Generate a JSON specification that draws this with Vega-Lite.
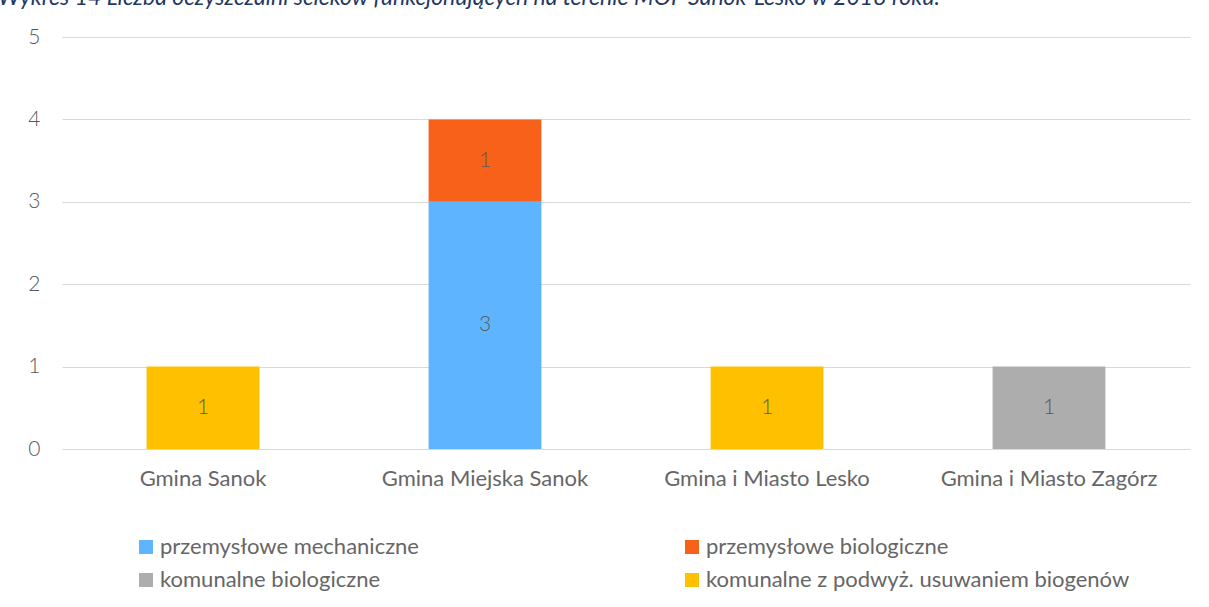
{
  "$schema": "https://vega.github.io/schema/vega-lite/v6.json",
  "autosize": "none",
  "width": 1128,
  "height": 412,
  "padding": {"left": 62, "top": 37, "right": 19, "bottom": 158},
  "background": "white",
  "title": {
    "text": "Wykres 14 Liczba oczyszczalni ścieków funkcjonujących na terenie MOF Sanok-Lesko w 2018 roku.",
    "anchor": "start",
    "frame": "group",
    "orient": "top",
    "offset": 0,
    "dx": -64,
    "dy": 2,
    "baseline": "alphabetic",
    "font": "Lato",
    "fontSize": 23,
    "fontStyle": "italic",
    "fontWeight": "normal",
    "color": "#1F3864"
  },
  "data": {
    "values": [
      {"gmina": "Gmina Sanok", "typ": "komunalne z podwyż. usuwaniem biogenów", "value": 1, "ord": 1},
      {"gmina": "Gmina Miejska Sanok", "typ": "przemysłowe mechaniczne", "value": 3, "ord": 1},
      {"gmina": "Gmina Miejska Sanok", "typ": "przemysłowe biologiczne", "value": 1, "ord": 2},
      {"gmina": "Gmina i Miasto Lesko", "typ": "komunalne z podwyż. usuwaniem biogenów", "value": 1, "ord": 1},
      {"gmina": "Gmina i Miasto Zagórz", "typ": "komunalne biologiczne", "value": 1, "ord": 1}
    ]
  },
  "transform": [
    {"stack": "value", "groupby": ["gmina"], "sort": [{"field": "ord"}], "as": ["v0", "v1"]},
    {"calculate": "(datum.v0 + datum.v1) / 2", "as": "mid"}
  ],
  "encoding": {
    "x": {
      "field": "gmina",
      "type": "nominal",
      "sort": ["Gmina Sanok", "Gmina Miejska Sanok", "Gmina i Miasto Lesko", "Gmina i Miasto Zagórz"],
      "scale": {"paddingInner": 0.6, "paddingOuter": 0.3},
      "axis": {
        "title": null,
        "labelAngle": 0,
        "domain": false,
        "ticks": false,
        "labelPadding": 19,
        "labelFont": "Lato",
        "labelFontSize": 22,
        "labelFontWeight": "normal",
        "labelColor": "#666666",
        "labelLimit": 400
      }
    }
  },
  "layer": [
    {
      "mark": {"type": "bar"},
      "encoding": {
        "y": {
          "field": "v0",
          "type": "quantitative",
          "scale": {"domain": [0, 5]},
          "axis": {
            "title": null,
            "values": [0, 1, 2, 3, 4, 5],
            "format": "d",
            "domain": false,
            "ticks": false,
            "labelPadding": 22,
            "labelFont": "Lato",
            "labelFontSize": 21,
            "labelFontWeight": 300,
            "labelColor": "#595959",
            "gridColor": "#D9D9D9",
            "gridWidth": 1
          }
        },
        "y2": {"field": "v1"},
        "color": {
          "field": "typ",
          "type": "nominal",
          "scale": {
            "domain": ["przemysłowe mechaniczne", "przemysłowe biologiczne", "komunalne biologiczne", "komunalne z podwyż. usuwaniem biogenów"],
            "range": ["#5FB4FF", "#F8611A", "#ADADAD", "#FFC000"]
          },
          "legend": {
            "title": null,
            "orient": "none",
            "legendX": 73,
            "legendY": 499,
            "direction": "horizontal",
            "columns": 2,
            "columnPadding": 262,
            "rowPadding": 11,
            "padding": 0,
            "symbolType": "square",
            "symbolSize": 196,
            "symbolStrokeWidth": 0,
            "labelFont": "Lato",
            "labelFontSize": 22,
            "labelFontWeight": "normal",
            "labelColor": "#666666",
            "labelOffset": 3,
            "labelLimit": 600
          }
        }
      }
    },
    {
      "mark": {"type": "text", "font": "Lato", "fontSize": 21, "fontWeight": 300, "color": "#595959"},
      "encoding": {
        "y": {"field": "mid", "type": "quantitative"},
        "text": {"field": "value", "type": "quantitative"}
      }
    }
  ],
  "config": {
    "view": {"stroke": null}
  }
}
